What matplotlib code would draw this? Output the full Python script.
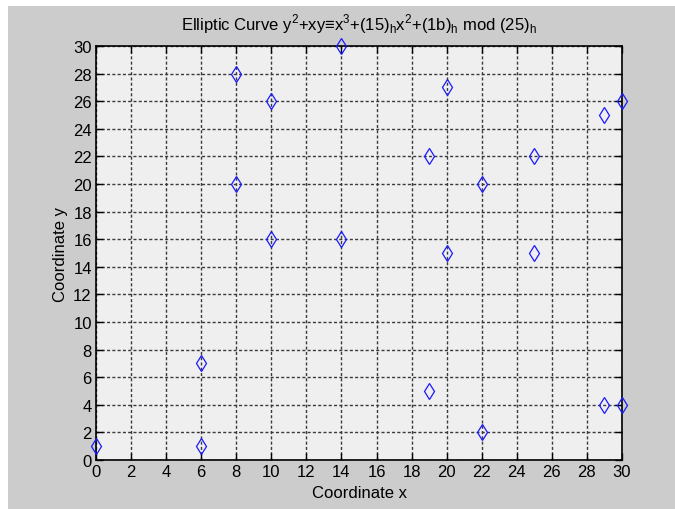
import matplotlib
matplotlib.use("Agg")
import matplotlib.pyplot as plt
from matplotlib.patches import Rectangle

# points on the curve
x_vals = [0, 6, 6, 8, 8, 10, 10, 14, 14, 19, 19, 20, 20, 22, 22, 25, 25, 29, 29, 30, 30]
y_vals = [1, 1, 7, 20, 28, 16, 26, 16, 30, 5, 22, 15, 27, 2, 20, 15, 22, 4, 25, 4, 26]
ticks = list(range(0, 31, 2))

plt.rcParams["font.family"] = ["Liberation Sans", "DejaVu Sans"]

fig = plt.figure(figsize=(6.75, 5.1), dpi=100, facecolor="white")
fig.patches.append(Rectangle((8 / 675, 0), 1, 1 - 7 / 510, transform=fig.transFigure,
                             facecolor="#cccccc", edgecolor="none", zorder=-10))

ax = fig.add_axes([96 / 675, 1 - 461 / 510, (622 - 96) / 675, (461 - 47) / 510])
ax.set_facecolor("#efefef")

ax.plot(x_vals, y_vals, linestyle="none", marker="d", markersize=8,
        markerfacecolor="none", markeredgecolor="#1a1aff", markeredgewidth=0.9,
        clip_on=False, zorder=5)

ax.set_xlim(0, 30)
ax.set_ylim(0, 30)
ax.set_xticks(ticks)
ax.set_yticks(ticks)
ax.grid(True, color="#3a3a3a", linestyle=(0, (2.2, 1.6)), linewidth=1)
ax.tick_params(direction="in", length=5, width=1, top=True, right=True,
               labelsize=12, colors="black", pad=3)
for sp in ax.spines.values():
    sp.set_linewidth(1.2)

ax.set_xlabel("Coordinate x", fontsize=12, labelpad=4)
ax.set_ylabel("Coordinate y", fontsize=12, labelpad=4)
ax.set_title(r"Elliptic Curve y$^\mathregular{2}$+xy≡x$^\mathregular{3}$+(15)$_\mathregular{h}$"
             r"x$^\mathregular{2}$+(1b)$_\mathregular{h}$ mod (25)$_\mathregular{h}$",
             fontsize=12, pad=12)

fig.savefig("out.png", dpi=100, facecolor=fig.get_facecolor())
